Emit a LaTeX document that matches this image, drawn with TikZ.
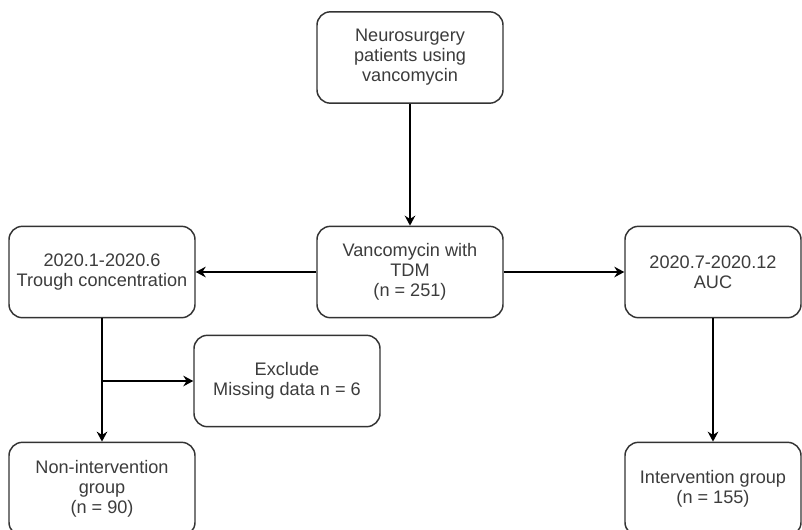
\documentclass[tikz,border=0pt]{standalone}
\usepackage{fontspec}
\setmainfont{Liberation Sans}
\usepackage{tikz}
\usetikzlibrary{arrows.meta}
\usepackage{xcolor}

\definecolor{boxline}{RGB}{51,51,51}
\definecolor{boxtext}{RGB}{60,60,60}

\tikzset{
  flowbox/.style={draw=boxline, line width=1.1pt, rounded corners=10pt, fill=white,
    minimum width=139.5pt, minimum height=68.5pt, inner sep=0pt, align=center,
    text=boxtext, font=\fontsize{13.6}{15}\selectfont},
  flowarrow/.style={draw=black, line width=1.1pt, -{Stealth[length=7.5pt,width=8pt,inset=2.5pt]}}
}

\begin{document}
\begin{tikzpicture}[x=0.75pt,y=0.75pt,yscale=-1,xscale=1]
            %set diagram to the size of the reference
            \useasboundingbox (0,0) rectangle (802,529);

            %Shape: Rounded Rect [id:patients]
            \node [flowbox] (patients) at (410,57.5) {Neurosurgery\\patients using\\vancomycin};
            %Shape: Rounded Rect [id:tdm]
            \node [flowbox] (tdm) at (410,272) {Vancomycin with\\TDM\\(n = 251)};
            %Shape: Rounded Rect [id:trough]
            \node [flowbox] (trough) at (102,272) {2020.1-2020.6\\Trough concentration};
            %Shape: Rounded Rect [id:auc]
            \node [flowbox, minimum width=132pt] (auc) at (713,272) {2020.7-2020.12\\AUC};
            %Shape: Rounded Rect [id:exclude]
            \node [flowbox] (exclude) at (287,381) {Exclude\\Missing data n = 6};
            %Shape: Rounded Rect [id:nonint]
            \node [flowbox, minimum height=70pt] (nonint) at (102,489) {Non-intervention\\group\\(n = 90)};
            %Shape: Rounded Rect [id:interv]
            \node [flowbox, minimum width=132pt, minimum height=70pt] (interv) at (713,489) {Intervention group\\(n = 155)};

            %Straight Lines
            \draw [flowarrow] (patients) -- (tdm);
            \draw [flowarrow] (tdm) -- (trough);
            \draw [flowarrow] (tdm) -- (auc);
            \draw [flowarrow] (trough) -- (nonint);
            \draw [flowarrow] (auc) -- (interv);
            %branch to exclusion
            \coordinate (branch) at (trough.south |- exclude.west);
            \draw [flowarrow] (branch) -- (exclude.west);
\end{tikzpicture}
\end{document}
